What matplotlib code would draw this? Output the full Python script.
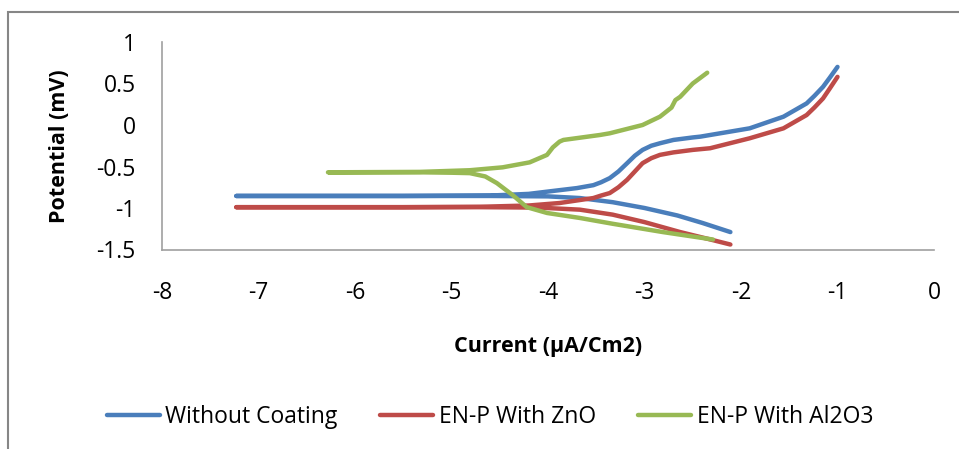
import matplotlib
matplotlib.use("Agg")
import matplotlib.pyplot as plt
from matplotlib.patches import Rectangle

plt.rcParams['font.family'] = ['Open Sans', 'DejaVu Sans']

# polarisation curves: cathodic end -> corrosion potential -> anodic end
without_x = [-2.11, -2.4, -2.66, -3.0, -3.33, -3.67, -4.0, -4.6, -5.5, -6.5, -7.23,
             -6.5, -5.5, -4.6, -4.2, -3.88, -3.7, -3.53, -3.45, -3.36, -3.27, -3.18,
             -3.1, -3.02, -2.93, -2.84, -2.7, -2.5, -2.42, -1.91, -1.56, -1.32, -1.24,
             -1.15, -1.08, -1.0]
without_y = [-1.29, -1.18, -1.09, -1.0, -0.93, -0.88, -0.86, -0.855, -0.855, -0.855, -0.855,
             -0.855, -0.855, -0.85, -0.83, -0.785, -0.76, -0.725, -0.69, -0.64, -0.56, -0.46,
             -0.37, -0.30, -0.25, -0.22, -0.18, -0.15, -0.14, -0.04, 0.10, 0.26, 0.35,
             0.46, 0.57, 0.70]

zno_x = [-2.11, -2.35, -2.63, -3.0, -3.33, -3.67, -4.1, -4.7, -5.5, -6.5, -7.23,
         -6.5, -5.5, -4.7, -4.2, -3.88, -3.53, -3.45, -3.36, -3.27, -3.18, -3.1,
         -3.02, -2.93, -2.84, -2.7, -2.5, -2.32, -1.91, -1.56, -1.32, -1.24, -1.15,
         -1.08, -1.0]
zno_y = [-1.44, -1.37, -1.29, -1.17, -1.08, -1.02, -0.995, -0.99, -0.99, -0.99, -0.99,
         -0.99, -0.99, -0.985, -0.97, -0.94, -0.88, -0.85, -0.82, -0.75, -0.66, -0.56,
         -0.46, -0.40, -0.36, -0.33, -0.30, -0.28, -0.16, -0.04, 0.12, 0.21, 0.32,
         0.44, 0.58]

al2o3_x = [-2.29, -2.81, -3.33, -3.67, -4.01, -4.22, -4.36, -4.53, -4.65, -4.81, -5.0,
           -5.33, -6.28, -5.33, -4.81, -4.47, -4.19, -4.01, -3.95, -3.88, -3.84, -3.46,
           -3.36, -3.02, -2.84, -2.72, -2.68, -2.63, -2.50, -2.35]
al2o3_y = [-1.38, -1.29, -1.19, -1.12, -1.06, -0.99, -0.85, -0.70, -0.62, -0.58, -0.575,
           -0.57, -0.57, -0.565, -0.545, -0.51, -0.45, -0.36, -0.27, -0.20, -0.18, -0.12,
           -0.10, 0.0, 0.10, 0.21, 0.30, 0.34, 0.50, 0.63]

series = [
    ("Without Coating", without_x, without_y, "#4a7ebb"),
    ("EN-P With ZnO", zno_x, zno_y, "#be4b48"),
    ("EN-P With Al2O3", al2o3_x, al2o3_y, "#98b954"),
]

fig = plt.figure(figsize=(9.59, 4.49), dpi=100)
fig.patches.append(Rectangle((8 / 959, -0.02), 1.0, 1 - 12 / 449 + 0.02,
                             transform=fig.transFigure, fill=False,
                             edgecolor="#868686", linewidth=1.5))
ax = fig.add_axes([162 / 959, 1 - 249.5 / 449, (934 - 162) / 959, (249.5 - 42) / 449])

for name, xs, ys, col in series:
    ax.plot(xs, ys, color=col, lw=3.2, label=name, solid_capstyle="round",
            solid_joinstyle="round")

ax.set_xlim(-8, 0)
ax.set_ylim(-1.5, 1)
ax.set_xticks(range(-8, 1))
ax.set_xticklabels([str(v) for v in range(-8, 1)])
ax.set_yticks([-1.5, -1, -0.5, 0, 0.5, 1])
ax.set_yticklabels(["-1.5", "-1", "-0.5", "0", "0.5", "1"])
for s in ["top", "right"]:
    ax.spines[s].set_visible(False)
for s in ["left", "bottom"]:
    ax.spines[s].set_color("#a0a0a0")
    ax.spines[s].set_linewidth(1.2)
ax.tick_params(axis="both", length=0, labelsize=16.5, colors="#000000")
ax.tick_params(axis="x", pad=23)
ax.tick_params(axis="y", pad=19)

ax.set_ylabel("Potential (mV)", fontsize=15.5, fontweight="bold", labelpad=19)
ax.set_xlabel("Current (µA/Cm2)", fontsize=15.5, fontweight="bold", labelpad=22)

fig.legend(loc="center", bbox_to_anchor=(490 / 959, 1 - 417 / 449), ncol=3,
           frameon=False, fontsize=16.5, handlelength=2.3, handletextpad=0.25,
           columnspacing=1.85)

fig.savefig("out.png", dpi=100)
